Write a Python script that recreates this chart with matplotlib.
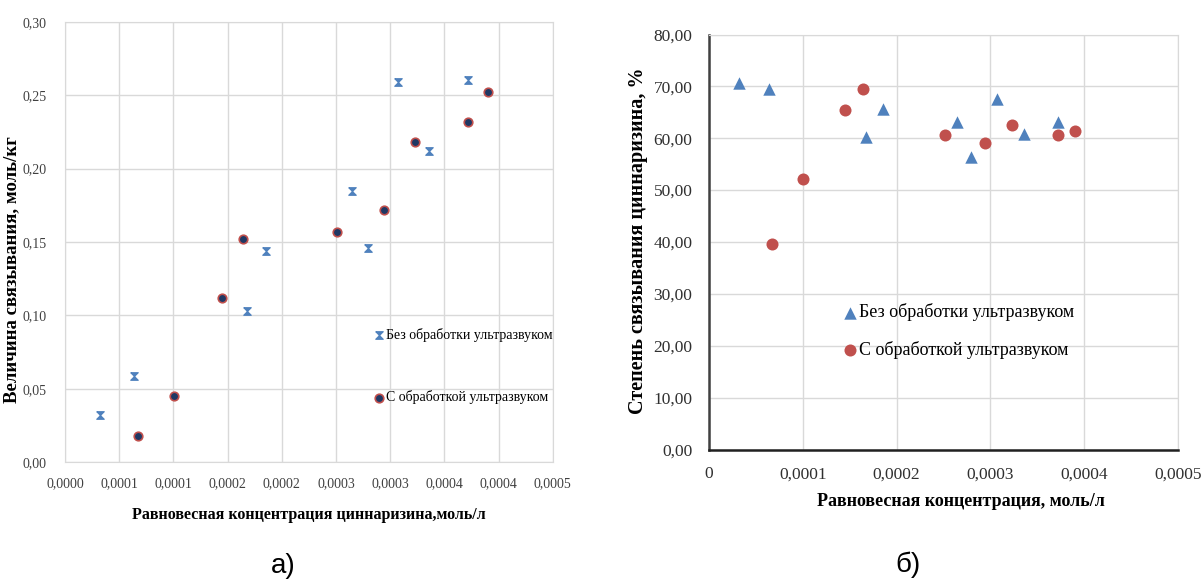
import numpy as np
import matplotlib
matplotlib.use("Agg")
import matplotlib.pyplot as plt

plt.rcParams['font.family'] = ['Liberation Serif', 'DejaVu Serif']

# ---- data ----
# concentration, mol/l
x_without = [3.25e-5, 6.4e-5, 1.678e-4, 1.852e-4, 2.644e-4, 2.796e-4, 3.074e-4, 3.356e-4, 3.722e-4]
x_with = [6.70e-5, 1.002e-4, 1.451e-4, 1.645e-4, 2.513e-4, 2.940e-4, 3.225e-4, 3.721e-4, 3.902e-4]

# a) binding value, mol/kg
a_without = [0.032, 0.059, 0.103, 0.144, 0.185, 0.146, 0.259, 0.212, 0.260]
a_with = [0.018, 0.045, 0.112, 0.152, 0.157, 0.172, 0.218, 0.232, 0.252]

# b) binding degree, %
b_without = [70.6, 69.4, 60.2, 65.6, 63.2, 56.3, 67.5, 60.9, 63.1]
b_with = [39.6, 52.1, 65.4, 69.4, 60.7, 59.1, 62.5, 60.6, 61.4]

label_without = "Без обработки ультразвуком"
label_with = "С обработкой ультразвуком"

a_xticks = [0, 0.00005, 0.0001, 0.00015, 0.0002, 0.00025, 0.0003, 0.00035, 0.0004, 0.00045]
a_xticklabels = ["0,0000", "0,0001", "0,0001", "0,0002", "0,0002",
                 "0,0003", "0,0003", "0,0004", "0,0004", "0,0005"]
a_yticks = [0, 0.05, 0.10, 0.15, 0.20, 0.25, 0.30]
a_yticklabels = ["0,00", "0,05", "0,10", "0,15", "0,20", "0,25", "0,30"]

b_xticks = [0, 0.0001, 0.0002, 0.0003, 0.0004, 0.0005]
b_xticklabels = ["0", "0,0001", "0,0002", "0,0003", "0,0004", "0,0005"]
b_yticks = [0, 10, 20, 30, 40, 50, 60, 70, 80]
b_yticklabels = ["0,00", "10,00", "20,00", "30,00", "40,00", "50,00", "60,00", "70,00", "80,00"]

grid_col = "#d9d9d9"
blue = "#4f81bd"
red = "#c0504d"
navy = "#1f3864"

# hourglass marker like the Excel one
hourglass = [(-1, 1), (1, 1), (-1, -1), (1, -1), (-1, 1)]

fig = plt.figure(figsize=(12.04, 5.80), dpi=100)

# ---------- a) ----------
ax1 = fig.add_axes([65 / 1204, 117.7 / 580, 487.7 / 1204, 440.6 / 580])
ax1.scatter(x_without, a_without, marker=hourglass, s=30, color=blue, linewidths=0.8,
            label=label_without, zorder=3)
ax1.scatter(x_with, a_with, marker='o', s=38, facecolor=navy, edgecolor=red, linewidths=1.2,
            label=label_with, zorder=3)
ax1.set_xlim(0, 0.00045)
ax1.set_ylim(0, 0.30)
ax1.set_xticks(a_xticks)
ax1.set_xticklabels(a_xticklabels)
ax1.set_yticks(a_yticks)
ax1.set_yticklabels(a_yticklabels)
ax1.tick_params(length=0, labelsize=10, colors="#404040", pad=11)
ax1.tick_params(axis='y', pad=13)
ax1.grid(True, color=grid_col, linewidth=1)
ax1.set_axisbelow(True)
for sp in ax1.spines.values():
    sp.set_color(grid_col)
ax1.set_xlabel("Равновесная концентрация циннаризина,моль/л", fontsize=11.5, fontweight='bold')
ax1.xaxis.set_label_coords(0.5, -0.102)
ax1.set_ylabel("Величина связывания, моль/кг", fontsize=13.5, fontweight='bold')
ax1.yaxis.set_label_coords(-0.092, 0.4365)
ax1.legend(loc='center left', bbox_to_anchor=(0.635, 0.2185), frameon=False,
           fontsize=10, labelspacing=3.5, handlelength=0.6, handletextpad=0.2,
           borderpad=0, borderaxespad=0)
fig.text(283 / 1204, 1 - 566 / 580, "а)", fontsize=20, family='Liberation Sans',
         ha='center', va='center')

# ---------- б) ----------
ax2 = fig.add_axes([709 / 1204, 130.5 / 580, 469 / 1204, 415 / 580])
ax2.scatter(x_without, b_without, marker='^', s=80, color=blue, linewidths=0,
            label=label_without, zorder=3)
ax2.scatter(x_with, b_with, marker='o', s=75, color=red, linewidths=0,
            label=label_with, zorder=3)
ax2.set_xlim(0, 0.0005)
ax2.set_ylim(0, 80)
ax2.set_xticks(b_xticks)
ax2.set_xticklabels(b_xticklabels)
ax2.set_yticks(b_yticks)
ax2.set_yticklabels(b_yticklabels)
ax2.tick_params(length=0, labelsize=12.5, colors="#303030", pad=12)
ax2.grid(True, color=grid_col, linewidth=1)
ax2.set_axisbelow(True)
ax2.spines['top'].set_color(grid_col)
ax2.spines['right'].set_color(grid_col)
ax2.spines['left'].set_color("#404040")
ax2.spines['bottom'].set_color("#202020")
ax2.spines['left'].set_linewidth(1.8)
ax2.spines['bottom'].set_linewidth(1.8)
ax2.set_xlabel("Равновесная концентрация, моль/л", fontsize=13, fontweight='bold')
ax2.xaxis.set_label_coords(0.537, -0.105)
ax2.set_ylabel("Степень связывания циннаризина, %", fontsize=14.5, fontweight='bold')
ax2.yaxis.set_label_coords(-0.13, 0.502)
ax2.legend(loc='center left', bbox_to_anchor=(0.2846, 0.2848), frameon=False,
           fontsize=13, labelspacing=1.1, handlelength=0.8, handletextpad=0.1,
           borderpad=0, borderaxespad=0)
fig.text(908 / 1204, 1 - 565 / 580, "б)", fontsize=20, family='Liberation Sans',
         ha='center', va='center')

fig.savefig("out.png", dpi=100)
